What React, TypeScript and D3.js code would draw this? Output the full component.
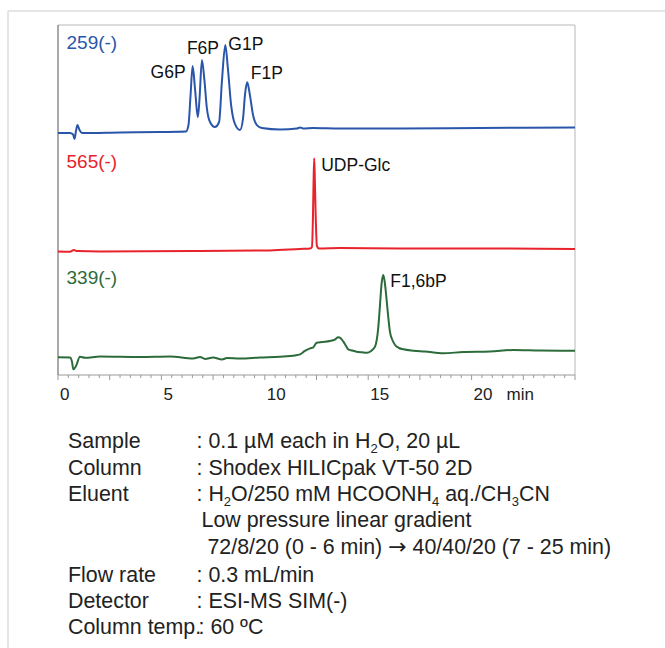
import React from 'react';
import * as d3 from 'd3';

// ---- data (time in min, relative signal 0..100 per channel) ----
const trace259: [number, number][] = [
  [0, 0], [0.58, 0], [0.73, -1.7], [0.8, -6.8], [0.87, 2.3], [0.94, 9.1], [1.04, 3.4], [1.16, 0],
  [3.0, 0.6], [4.93, 1.1], [6.19, 1.7], [6.31, 9.1], [6.41, 43], [6.51, 76], [6.63, 49], [6.76, 18],
  [6.84, 37.5], [6.96, 83], [7.08, 60], [7.2, 28], [7.35, 12.5], [7.59, 6.8], [7.79, 12.5], [7.93, 60],
  [8.09, 100], [8.22, 72], [8.37, 32], [8.56, 10], [8.8, 3.4], [8.95, 17], [9.04, 43], [9.15, 57.6],
  [9.28, 43], [9.43, 20.5], [9.62, 9], [9.86, 5.7], [10.74, 4], [11.56, 5.1], [11.7, 6.3], [11.85, 5.1],
  [12.33, 5.7], [13.64, 5.1], [16.54, 5.1], [20.41, 5.7], [25, 6.3],
];
const trace565: [number, number][] = [
  [0, 0.2], [0.58, 0], [0.77, 1.8], [0.92, 0.7], [2.03, 0.2], [6.87, 0.7], [10.25, 1.3], [11.7, 2.9],
  [12.19, 3.4], [12.28, 5], [12.33, 39], [12.36, 77], [12.39, 100], [12.42, 77], [12.46, 39], [12.52, 6.1],
  [12.62, 3.4], [13.64, 4], [16.54, 3.4], [21.37, 3.4], [25, 2.9],
];
const trace339: [number, number][] = [
  [0, 0], [0.58, -0.2], [0.68, -5.7], [0.74, -14.6], [0.87, -10.6], [1.06, 0.7], [1.31, -0.6], [2.03, 1],
  [3.97, 0.4], [5.42, 1], [6.53, -1.5], [6.87, 0.4], [7.11, -2], [7.5, -0.2], [7.93, -2.7], [8.17, -0.9],
  [8.8, -1.5], [9.77, -0.2], [10.73, 0.7], [11.46, 2.2], [11.7, 3.6], [11.94, 7.7], [12.19, 10.9],
  [12.33, 11.9], [12.51, 17.7], [12.77, 18.6], [13.15, 19.8], [13.39, 21.6], [13.55, 24.3], [13.68, 22.8],
  [13.8, 19], [13.93, 13.7], [14.04, 9.7], [14.22, 8.3], [14.44, 6.8], [14.7, 6.1], [14.93, 5.6],
  [15.14, 7.7], [15.33, 12.9], [15.49, 37], [15.57, 63.5], [15.65, 90], [15.73, 100], [15.8, 91.5],
  [15.86, 77.8], [15.96, 51.4], [16.05, 31.1], [16.17, 21], [16.3, 15], [16.49, 11.3], [16.7, 9.7],
  [17.18, 8], [17.75, 7], [18.63, 4.9], [19.6, 6.4], [20.89, 7], [22.02, 8.9], [23.31, 8.3], [25, 8],
];

const channelNames = ['259(-)', '565(-)', '339(-)'];
const peakNames259 = ['G6P', 'F6P', 'G1P', 'F1P'];
const peakTimes259 = [6.51, 6.96, 8.09, 9.15];
const peakNames565 = ['UDP-Glc'];
const peakTimes565 = [12.39];
const peakNames339 = ['F1,6bP'];
const peakTimes339 = [15.73];

const xTickLabels = [0, 5, 10, 15, 20];
const xUnit = 'min';

const infoLabels = ['Sample', 'Column', 'Eluent', '', '', 'Flow rate', 'Detector', 'Column temp.'];
const infoValues = [
  ': 0.1 µM each in H_{2}O, 20 µL',
  ': Shodex HILICpak VT-50 2D',
  ': H_{2}O/250 mM HCOONH_{4} aq./CH_{3}CN',
  'Low pressure linear gradient',
  ' 72/8/20 (0 - 6 min) \u2192 40/40/20 (7 - 25 min)',
  ': 0.3 mL/min',
  ': ESI-MS SIM(-)',
  ': 60 ºC',
];

// ---- layout ----
const W = 665;
const H = 648;
const FONT = "'Liberation Sans', Arial, Helvetica, sans-serif";
const plotL = 58, plotR = 575, plotT = 25, plotB = 375;

const x = d3.scaleLinear().domain([0, 25]).range([plotL, plotR]);

type Peak = { name: string; t: number; anchor: string; dx: number; dy: number };

const panels = [
  {
    name: channelNames[0], color: '#2a56aa', data: trace259,
    y: d3.scaleLinear().domain([0, 100]).range([133, 45]), labelBase: 49,
    peaks: [
      { name: peakNames259[0], t: peakTimes259[0], anchor: 'end', dx: -7, dy: 11.5 },
      { name: peakNames259[1], t: peakTimes259[1], anchor: 'middle', dx: 1, dy: -6 },
      { name: peakNames259[2], t: peakTimes259[2], anchor: 'start', dx: 3, dy: 4.5 },
      { name: peakNames259[3], t: peakTimes259[3], anchor: 'start', dx: 3.5, dy: -3 },
    ] as Peak[],
  },
  {
    name: channelNames[1], color: '#e8232b', data: trace565,
    y: d3.scaleLinear().domain([0, 100]).range([251.7, 158.3]), labelBase: 167.5,
    peaks: [{ name: peakNames565[0], t: peakTimes565[0], anchor: 'start', dx: 7, dy: 13 }] as Peak[],
  },
  {
    name: channelNames[2], color: '#2c6b3a', data: trace339,
    y: d3.scaleLinear().domain([0, 100]).range([357.3, 275]), labelBase: 284,
    peaks: [{ name: peakNames339[0], t: peakTimes339[0], anchor: 'start', dx: 7, dy: 12 }] as Peak[],
  },
];

const infoRowY = [447.5, 474.5, 500.5, 527, 554, 582, 607.5, 634];
const infoValueX = [196.5, 196.5, 196.5, 201.5, 201.5, 196.5, 196.5, 198.5];
const INFO_FS = 21.4;

function RichText({ s }: { s: string }) {
  const parts = s.split(/(_\{[^}]*\}|\u2192)/).filter((p) => p.length > 0);
  const out: React.ReactNode[] = [];
  let lowered = false;
  parts.forEach((p, i) => {
    if (p.startsWith('_{')) {
      out.push(<tspan key={i} dy={5} fontSize={13}>{p.slice(2, -1)}</tspan>);
      lowered = true;
    } else if (p === '\u2192') {
      out.push(<tspan key={i} dy={lowered ? -5 : 0} fontFamily="'DejaVu Sans', sans-serif" fontSize={22}>{p}</tspan>);
      lowered = false;
    } else {
      out.push(<tspan key={i} dy={lowered ? -5 : 0}>{p}</tspan>);
      lowered = false;
    }
  });
  return <>{out}</>;
}

export default function App() {
  const minorTicks = d3.range(0, 25.001, 0.5);
  return (
    <svg width={W} height={H} style={{ position: 'absolute', left: 0, top: 0, display: 'block', background: '#fff' }}
      fontFamily={FONT}>
      {/* outer frame */}
      <line x1={8} y1={11} x2={W} y2={11} stroke="#dcdcdc" strokeWidth={1.5} />
      <line x1={8} y1={11} x2={8} y2={H} stroke="#dcdcdc" strokeWidth={1.5} />

      {/* plot box */}
      <line x1={plotL} y1={plotT} x2={plotR} y2={plotT} stroke="#cfcfcf" strokeWidth={1.5} />
      <line x1={plotR} y1={plotT} x2={plotR} y2={plotB} stroke="#cfcfcf" strokeWidth={1.5} />
      <line x1={plotL} y1={plotT} x2={plotL} y2={plotB} stroke="#555" strokeWidth={1} />
      <line x1={plotL} y1={plotB} x2={plotR} y2={plotB} stroke="#999" strokeWidth={1} />

      {/* ticks */}
      {minorTicks.map((t) => {
        const major = Math.abs(t / 2.5 - Math.round(t / 2.5)) < 1e-6;
        return <line key={t} x1={x(t)} x2={x(t)} y1={plotB} y2={plotB + (major ? 5 : 3)} stroke="#999" strokeWidth={1} />;
      })}
      {xTickLabels.map((t) => (
        <text key={t} x={x(t) + 2} y={400} fontSize={17} fill="#222" textAnchor="start">{t}</text>
      ))}
      <text x={x(20) + 35} y={400} fontSize={17} fill="#222">{xUnit}</text>

      {/* traces */}
      {panels.map((p) => {
        const line = d3.line<[number, number]>()
          .x((d) => x(d[0]))
          .y((d) => p.y(d[1]))
          .curve(d3.curveMonotoneX);
        return (
          <g key={p.name}>
            <path d={line(p.data) || ''} fill="none" stroke={p.color} strokeWidth={2} strokeLinejoin="round" />
            <text x={66.5} y={p.labelBase} fontSize={19} fill={p.color}>{p.name}</text>
            {p.peaks.map((pk) => {
              const near = p.data.filter((d) => Math.abs(d[0] - pk.t) < 0.08);
              const top = d3.max(near, (d) => d[1]) ?? 0;
              return (
                <text key={pk.name} x={x(pk.t) + pk.dx} y={p.y(top) + pk.dy} fontSize={17.5}
                  fill="#111" textAnchor={pk.anchor}>{pk.name}</text>
              );
            })}
          </g>
        );
      })}

      {/* conditions */}
      {infoLabels.map((lab, i) => (
        <g key={i}>
          {lab && <text x={68} y={infoRowY[i]} fontSize={INFO_FS} fill="#222">{lab}</text>}
          <text x={infoValueX[i]} y={infoRowY[i]} fontSize={INFO_FS} fill="#222" xmlSpace="preserve" style={{ whiteSpace: 'pre' }}>
            <RichText s={infoValues[i]} />
          </text>
        </g>
      ))}
    </svg>
  );
}
